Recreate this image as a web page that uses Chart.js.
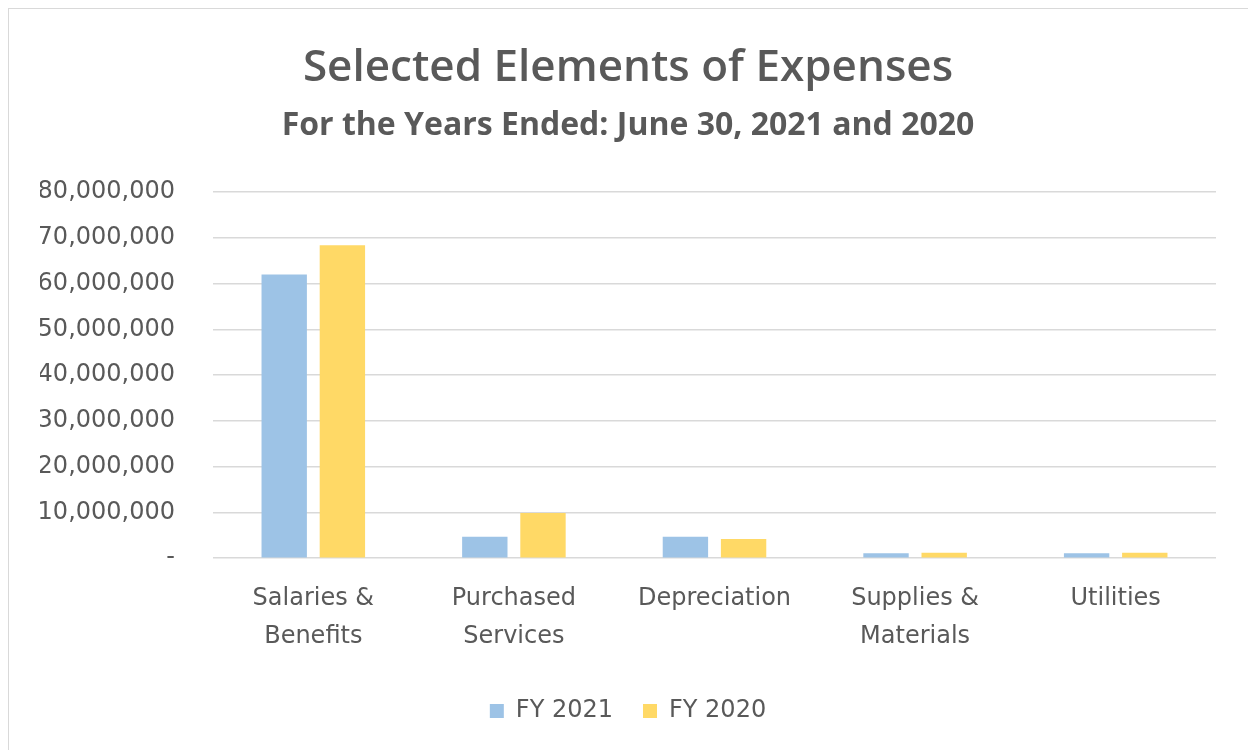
<!DOCTYPE html>
<html>
<head>
<meta charset="utf-8">
<script src="https://cdn.jsdelivr.net/npm/chart.js@4.4.1/dist/chart.umd.min.js"></script>
<style>
  body { margin: 0; background: #fff; }
  #wrap { position: relative; width: 1248px; height: 750px; overflow: hidden; }
  #frame { position: absolute; left: 8px; top: 8px; width: 1260px; height: 760px; border: 1px solid #d9d9d9; pointer-events: none; }
  canvas { position: absolute; left: 0; top: 0; }
</style>
</head>
<body>
<div id="wrap">
  <canvas id="expenseChart" width="1248" height="750"></canvas>
  <div id="frame"></div>
</div>
<script>
// chart data
const categories = [['Salaries &', 'Benefits'], ['Purchased', 'Services'], 'Depreciation', ['Supplies &', 'Materials'], 'Utilities'];
const fy2021 = [62000000, 4700000, 4700000, 1100000, 1100000];
const fy2020 = [68400000, 9900000, 4200000, 1200000, 1200000];

const textGray = '#595959';

const ctx = document.getElementById('expenseChart').getContext('2d');
const expenseChart = new Chart(ctx, {
    type: 'bar',
    data: {
        labels: categories,
        datasets: [{
            label: 'FY 2021',
            data: fy2021,
            backgroundColor: '#9dc3e6',
            categoryPercentage: 0.58,
            barPercentage: 0.78
        }, {
            label: 'FY 2020',
            data: fy2020,
            backgroundColor: '#ffd966',
            categoryPercentage: 0.58,
            barPercentage: 0.78
        }]
    },
    options: {
        responsive: false,
        animation: false,
        layout: {
            padding: { top: 42, left: 40, right: 32, bottom: 17 }
        },
        plugins: {
            title: {
                display: true,
                text: 'Selected Elements of Expenses',
                color: textGray,
                font: { family: 'Open Sans', size: 44, weight: '600' },
                padding: { top: 0, bottom: 12 }
            },
            subtitle: {
                display: true,
                text: 'For the Years Ended: June 30, 2021 and 2020',
                color: textGray,
                font: { family: 'Open Sans', size: 32, weight: '700' },
                padding: { top: 0, bottom: 47 }
            },
            legend: {
                position: 'bottom',
                labels: {
                    color: textGray,
                    font: { family: 'DejaVu Sans', size: 24 },
                    boxWidth: 14,
                    boxHeight: 14,
                    padding: 30
                }
            },
            tooltip: { enabled: false }
        },
        scales: {
            x: {
                grid: { display: false },
                border: { display: false },
                ticks: {
                    color: textGray,
                    font: { family: 'DejaVu Sans', size: 24, lineHeight: 1.6 },
                    padding: 13,
                    maxRotation: 0
                }
            },
            y: {
                min: 0,
                max: 80000000,
                grid: { color: '#d9d9d9', lineWidth: 1.5, drawTicks: false },
                border: { display: false },
                afterFit: function(scale) {
                    scale.width = 173;
                },
                ticks: {
                    stepSize: 10000000,
                    color: textGray,
                    font: { family: 'DejaVu Sans', size: 24 },
                    padding: 38,
                    callback: function(value) {
                        return value === 0 ? '-' : value.toLocaleString('en-US');
                    }
                }
            }
        }
    }
});
</script>
</body>
</html>
